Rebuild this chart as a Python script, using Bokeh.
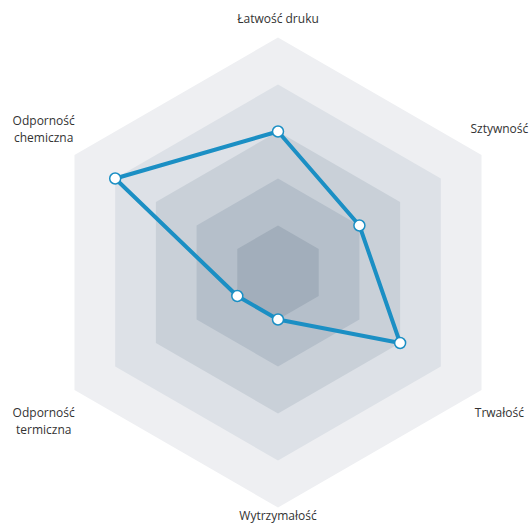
import numpy as np
from bokeh.plotting import figure
from bokeh.models import Range1d, ColumnDataSource
from bokeh.core.properties import value
from bokeh.embed import file_html
from bokeh.resources import INLINE

# ---- data ----
categories = ["Łatwość druku", "Sztywność", "Trwałość", "Wytrzymałość",
              "Odporność\ntermiczna", "Odporność\nchemiczna"]
values = [3, 2, 3, 1, 1, 4]
max_value = 5
levels = [5, 4, 3, 2, 1]

# ---- geometry ----
W, H = 529, 526
R_PX = 235.0
CX, CY = 277.5, 272.0
n = len(categories)
angles = np.deg2rad(90 - np.arange(n) * 360.0 / n)

p = figure(width=W, height=H, output_backend="svg", toolbar_location=None,
           x_range=Range1d(-CX / R_PX, (W - CX) / R_PX),
           y_range=Range1d(-(H - CY) / R_PX, CY / R_PX),
           min_border=0, outline_line_color=None)
p.axis.visible = False
p.grid.visible = False
p.background_fill_color = "white"
p.border_fill_color = "white"

ring_colors = ["#eeeff2", "#dde1e7", "#c9d0d8", "#b5bfca", "#a2aebb"]
for lvl, col in zip(levels, ring_colors):
    r = lvl / max_value
    p.patch(list(r * np.cos(angles)), list(r * np.sin(angles)),
            fill_color=col, line_color=None)

# data polygon
vr = np.array(values) / max_value
xs = list(vr * np.cos(angles)) + [vr[0] * np.cos(angles[0])]
ys = list(vr * np.sin(angles)) + [vr[0] * np.sin(angles[0])]
blue = "#1b8fc4"
p.line(xs, ys, line_color=blue, line_width=4, line_join="round")
p.scatter(xs[:-1], ys[:-1], size=11, fill_color="white",
          line_color=blue, line_width=1.5)

# labels
lx, ly = [], []
for a in angles:
    c, s = np.cos(a), np.sin(a)
    if abs(c) < 1e-6:
        lx.append(0.0)
        ly.append(1.08 if s > 0 else -1.035)
    else:
        lx.append(0.942 if c > 0 else -0.997)
        if c > 0:
            ly.append(0.613 if s > 0 else -0.594)
        else:
            ly.append(0.609 if s > 0 else -0.633)

src = ColumnDataSource(dict(x=lx, y=ly, t=categories))
p.text("x", "y", text="t", source=src, text_align="center",
       text_baseline="middle", text_font=value("Open Sans"),
       text_font_size="12px", text_color="#333333", text_line_height=1.0)

open("out.html", "w").write(file_html(p, INLINE))
